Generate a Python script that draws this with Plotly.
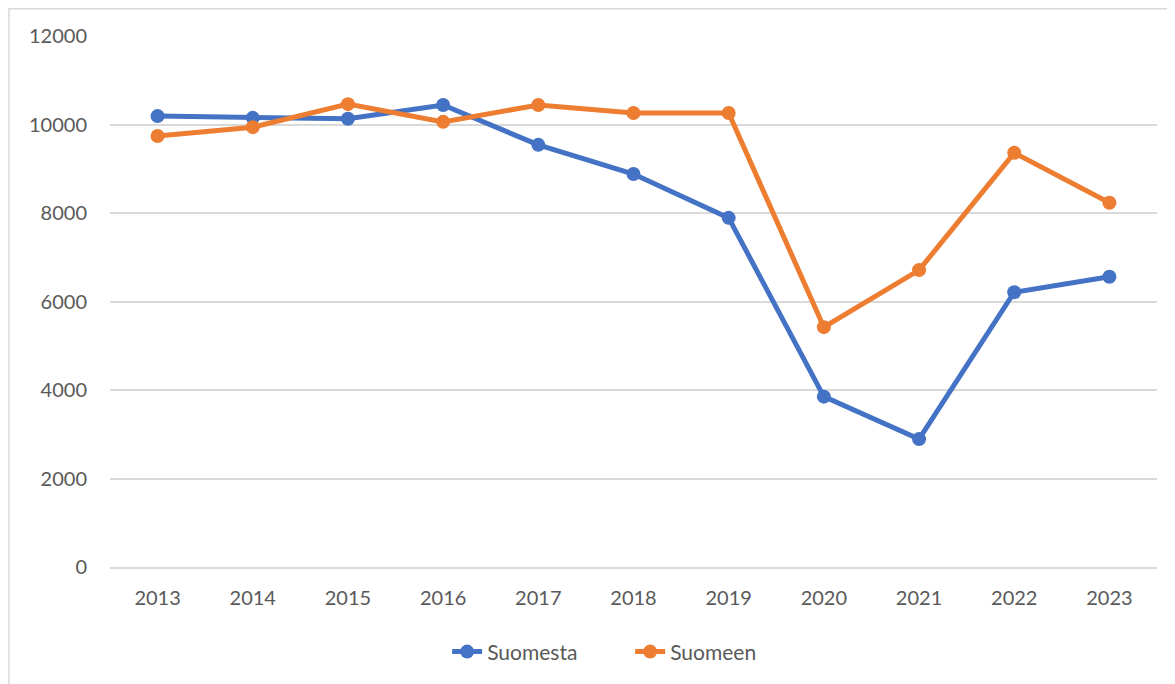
import plotly.graph_objects as go

# values
years = ['2013', '2014', '2015', '2016', '2017', '2018', '2019', '2020', '2021', '2022', '2023']
suomesta = [10190, 10150, 10130, 10440, 9540, 8880, 7890, 3850, 2890, 6210, 6560]
suomeen = [9740, 9940, 10460, 10060, 10440, 10260, 10260, 5420, 6710, 9360, 8230]

y_ticks = [0, 2000, 4000, 6000, 8000, 10000, 12000]
y_labels = ['0', '2000', '4000', '6000', '8000', '10000', '12000']

blue = '#4472C4'
orange = '#ED7D31'

fig = go.Figure()
fig.add_trace(go.Scatter(x=years, y=suomesta, name='Suomesta', mode='lines+markers',
                         line=dict(color=blue, width=5),
                         marker=dict(color=blue, size=14)))
fig.add_trace(go.Scatter(x=years, y=suomeen, name='Suomeen', mode='lines+markers',
                         line=dict(color=orange, width=5),
                         marker=dict(color=orange, size=14)))

# page body adds an 8px offset, so the figure is 8px smaller
fig.update_layout(
    width=1167, height=676,
    template='plotly_white',
    paper_bgcolor='white', plot_bgcolor='white',
    margin=dict(l=102, r=18, t=28, b=117),
    font=dict(family='Lato, Open Sans, sans-serif', size=20, color='#595959'),
    legend=dict(orientation='h', x=0.322, xanchor='left', y=-0.16, yanchor='middle',
                font=dict(size=21, color='#595959'), entrywidth=138, entrywidthmode='pixels'),
    # outer chart border, partly cut off on the right and bottom like the reference
    shapes=[dict(type='rect', xref='paper', yref='paper', x0=-0.0965, x1=1.2, y0=-0.4, y1=1.0515,
                 line=dict(color='#d9d9d9', width=1.5), fillcolor='rgba(0,0,0,0)', layer='below')],
)
fig.update_xaxes(type='category', range=[-0.5, 10.5], showgrid=False, showline=True,
                 linecolor='#d9d9d9', linewidth=1.5, ticks='', ticklabelstandoff=12,
                 zeroline=False)
fig.update_yaxes(range=[0, 12000], tickvals=y_ticks, ticktext=y_labels, showgrid=True,
                 gridcolor='#d9d9d9', gridwidth=1.5, zeroline=False, showline=False,
                 ticks='', ticklabelstandoff=22)

fig.write_html('out.html')
